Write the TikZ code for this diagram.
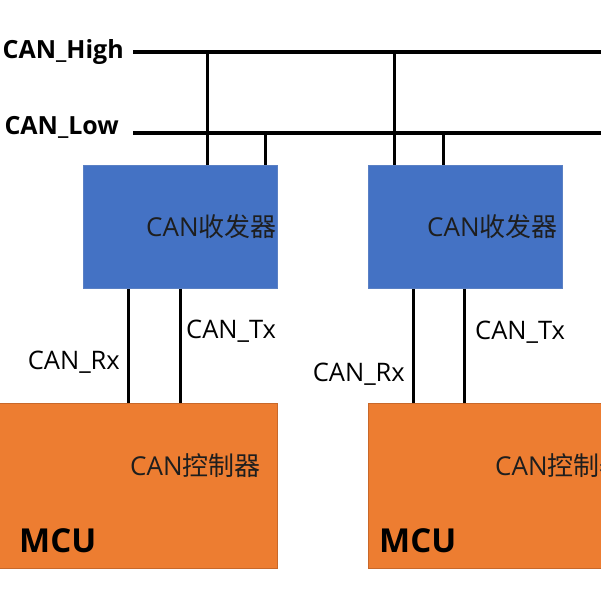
\documentclass[tikz,border=0pt]{standalone}
\usepackage{fontspec}
\setmainfont{Open Sans}
\newfontfamily\cjk{Noto Sans CJK SC}
\usetikzlibrary{positioning}
\definecolor{xblue}{HTML}{4472C4}
\definecolor{xblueline}{HTML}{5A80C4}
\definecolor{mcuorange}{HTML}{ED7D31}
\definecolor{mculine}{HTML}{C8682A}
\definecolor{boxink}{HTML}{1E1E1E}

\begin{document}
\begin{tikzpicture}[x=1pt,y=-1pt,
  xcvr/.style={draw=xblueline,line width=0.8pt,fill=xblue,anchor=north west,
    minimum width=194pt,minimum height=123pt,inner sep=0pt},
  mcubox/.style={draw=mculine,line width=0.8pt,fill=mcuorange,anchor=north west,
    minimum width=280pt,minimum height=165pt,inner sep=0pt},
  boxtext/.style={inner sep=0pt,text=boxink,font=\fontsize{26}{30}\selectfont},
  sig/.style={inner sep=0pt,font=\fontsize{25.5}{29}\selectfont},
  buslabel/.style={inner sep=0pt,anchor=east,font=\fontsize{25}{29}\selectfont\bfseries},
  mculabel/.style={inner sep=0pt,anchor=west,font=\fontsize{33}{37}\selectfont\bfseries},
  bus/.style={line width=3.3pt},
  wire/.style={line width=3pt}]
\useasboundingbox (0,0) rectangle (601,601);
\clip (0,0) rectangle (601,601);

% bus lines
\coordinate(hiA) at (133,52);
\coordinate(hiB) at (610,52);
\coordinate(loA) at (133,133);
\coordinate(loB) at (610,133);
\node(high)	[buslabel] at (124,52) {CAN\_High};
\node(low)	[buslabel] at (119,127) {CAN\_Low};

% transceivers
\node(tr1)	[xcvr] at (83,165) {};
\node(tr2)	[xcvr] at (368,165) {};
\node(tr1t)	[boxtext,left=1pt of tr1.east] {CAN{\cjk 收发器}};
\node(tr2t)	[boxtext,left=5pt of tr2.east] {CAN{\cjk 收发器}};

% controllers
\node(mcu1)	[mcubox] at (-3,403) {};
\node(mcu2)	[mcubox,minimum width=260pt] at (368,403) {};
\node(ctl1)	[boxtext,anchor=west] at (130,466) {CAN{\cjk 控制器}};
\node(ctl2)	[boxtext,anchor=west] at (495,466) {CAN{\cjk 控制器}};
\node(m1)	[mculabel] at (19,541) {MCU};
\node(m2)	[mculabel] at (379,541) {MCU};

\draw[bus] (hiA) -- (hiB);
\draw[bus] (loA) -- (loB);

% taps
\coordinate(h1) at (207,52);
\coordinate(l1) at (265,133);
\coordinate(h2) at (394,52);
\coordinate(l2) at (443,133);
\draw[wire] (h1) -- (h1 |- tr1.north);
\draw[wire] (l1) -- (l1 |- tr1.north);
\draw[wire] (h2) -- (h2 |- tr2.north);
\draw[wire] (l2) -- (l2 |- tr2.north);

% rx / tx
\path (tr1.south west) ++(45,0) coordinate(rx1);
\path (tr1.south west) ++(97,0) coordinate(tx1);
\path (tr2.south west) ++(45,0) coordinate(rx2);
\path (tr2.south west) ++(96,0) coordinate(tx2);
\draw[wire] (rx1) -- (rx1 |- mcu1.north);
\draw[wire] (tx1) -- (tx1 |- mcu1.north);
\draw[wire] (rx2) -- (rx2 |- mcu2.north);
\draw[wire] (tx2) -- (tx2 |- mcu2.north);
\node(rx1l)	[sig,anchor=east] at (120,362) {CAN\_Rx};
\node(tx1l)	[sig,anchor=west] at (186,331) {CAN\_Tx};
\node(rx2l)	[sig,anchor=east] at (405,374) {CAN\_Rx};
\node(tx2l)	[sig,anchor=west] at (475,332) {CAN\_Tx};
\end{tikzpicture}
\end{document}
